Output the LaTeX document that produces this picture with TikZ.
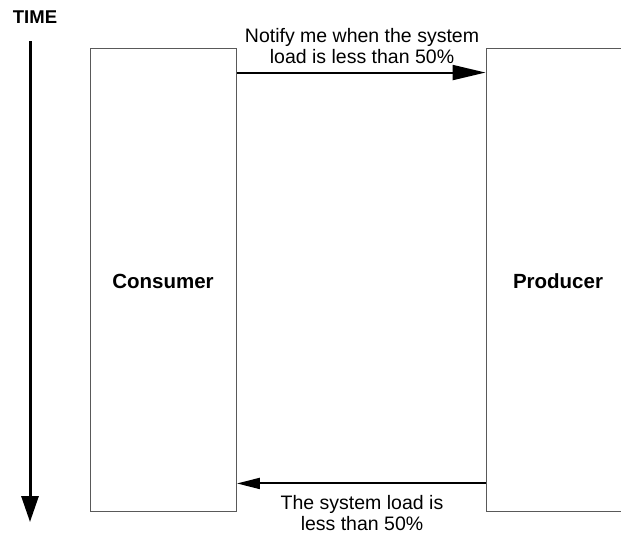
\documentclass[tikz,border=0pt]{standalone}
\usepackage{fontspec}
\setmainfont{Liberation Sans}
\usetikzlibrary{arrows.meta}
\begin{document}
\begin{tikzpicture}[x=1pt,y=-1pt,
  lifeline/.style={draw=black!65, line width=0.9pt, rectangle, inner sep=0pt},
  actor/.style={font=\fontsize{20.5}{24}\selectfont\bfseries},
  msg/.style={font=\fontsize{19.5}{21}\selectfont, align=center, inner sep=0pt},
  msgline/.style={line width=2pt}]
\useasboundingbox (0,0) rectangle (621,536);

% time axis
\node[font=\fontsize{18.5}{22}\selectfont\bfseries, inner sep=0pt] (time) at (35,17) {TIME};
\coordinate (t0) at (30,41);
\coordinate (t1) at (30,522);
\draw[line width=3pt, -{Triangle[length=26pt,width=17pt]}] (t0) -- (t1);

% consumer lifeline box
\node[lifeline, minimum width=146pt, minimum height=463pt] (consumer) at (163.5,279.5) {};
\node[actor] (consumerlabel) at (163,281) {Consumer};

% producer lifeline box (runs off the right edge)
\node[lifeline, minimum width=150pt, minimum height=463pt] (producer) at (561,279.5) {};
\node[actor] (producerlabel) at (558,281) {Producer};

% request
\draw[msgline, -{Triangle[length=33pt,width=15pt]}]
  ([yshift=-25pt]consumer.north east) -- ([yshift=-25pt]producer.north west);
\node[msg] (req) at (362,46) {Notify me when the system\\load is less than 50\%};

% notification
\draw[msgline, -{Triangle[length=23pt,width=11pt]}]
  ([yshift=28pt]producer.south west) -- ([yshift=28pt]consumer.south east);
\node[msg] (resp) at (362,513.5) {The system load is\\less than 50\%};
\end{tikzpicture}
\end{document}
